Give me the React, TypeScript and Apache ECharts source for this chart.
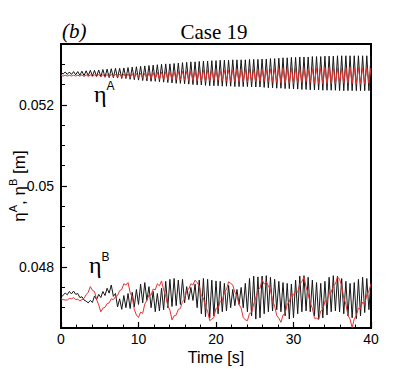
import React, { useEffect, useRef } from "react";
import * as echarts from "echarts";

// ---- data ----
const TIME_MIN = 0;
const TIME_MAX = 40;
const SAMPLE_STEP = 40 / 148; // samples every ~0.27 s (half of the ~0.54 s wave period)

const X_TICK_INTERVAL = 10;
const Y_MIN = 0.0465;
const Y_MAX = 0.0535;
const Y_MAJOR_TICKS = [0.048, 0.05, 0.052];
const Y_MINOR_STEP = 0.0005;

// eta^A, black curve [m]
const etaA_black = [
  .05280, .05276, .05281, .05275, .05281, .05275, .05282, .05274, .05282, .05273,
  .05283, .05272, .05284, .05272, .05285, .05271, .05285, .05270, .05286, .05269,
  .05287, .05268, .05288, .05267, .05289, .05267, .05290, .05266, .05290, .05265,
  .05291, .05265, .05292, .05263, .05293, .05262, .05294, .05261, .05295, .05260,
  .05296, .05259, .05297, .05258, .05298, .05258, .05299, .05257, .05300, .05256,
  .05301, .05255, .05301, .05254, .05302, .05253, .05303, .05253, .05304, .05252,
  .05305, .05251, .05306, .05250, .05306, .05249, .05307, .05249, .05308, .05248,
  .05308, .05247, .05309, .05247, .05309, .05247, .05310, .05246, .05310, .05246,
  .05310, .05246, .05311, .05245, .05311, .05245, .05311, .05245, .05311, .05245,
  .05312, .05244, .05312, .05244, .05312, .05244, .05313, .05243, .05313, .05242,
  .05314, .05242, .05314, .05241, .05315, .05241, .05316, .05240, .05316, .05240,
  .05317, .05239, .05317, .05239, .05318, .05238, .05318, .05238, .05318, .05237,
  .05319, .05237, .05319, .05237, .05319, .05236, .05320, .05236, .05320, .05236,
  .05320, .05236, .05321, .05235, .05321, .05235, .05321, .05235, .05321, .05235,
  .05321, .05235, .05321, .05235, .05321, .05235, .05321, .05235, .05321,
];

// eta^A, red curve [m]
const etaA_red = [
  .05273, .05271, .05273, .05271, .05273, .05271, .05273, .05271, .05273, .05271,
  .05274, .05270, .05274, .05270, .05274, .05270, .05274, .05270, .05275, .05269,
  .05275, .05269, .05275, .05269, .05275, .05269, .05276, .05268, .05276, .05268,
  .05276, .05268, .05276, .05267, .05277, .05267, .05277, .05267, .05278, .05266,
  .05278, .05265, .05279, .05265, .05280, .05264, .05280, .05263, .05281, .05263,
  .05282, .05262, .05282, .05262, .05282, .05262, .05283, .05261, .05283, .05261,
  .05283, .05260, .05284, .05260, .05284, .05259, .05285, .05259, .05286, .05258,
  .05286, .05259, .05285, .05260, .05284, .05260, .05284, .05260, .05285, .05259,
  .05286, .05258, .05287, .05257, .05288, .05256, .05288, .05256, .05288, .05256,
  .05288, .05257, .05287, .05257, .05286, .05258, .05286, .05258, .05287, .05257,
  .05288, .05256, .05289, .05255, .05290, .05254, .05290, .05253, .05291, .05253,
  .05291, .05253, .05290, .05254, .05289, .05255, .05289, .05256, .05288, .05255,
  .05289, .05254, .05290, .05253, .05291, .05252, .05292, .05252, .05292, .05252,
  .05291, .05253, .05290, .05254, .05290, .05254, .05291, .05253, .05292, .05252,
  .05292, .05251, .05293, .05251, .05292, .05252, .05292, .05253, .05291,
];

// eta^B, black curve [m]
const etaB_black = [
  .04725, .04731, .04736, .04732, .04740, .04734, .04741, .04733, .04735, .04725,
  .04727, .04719, .04716, .04712, .04718, .04713, .04729, .04720, .04733, .04725,
  .04740, .04730, .04748, .04736, .04756, .04728, .04735, .04702, .04722, .04696,
  .04730, .04700, .04735, .04698, .04738, .04702, .04745, .04708, .04758, .04712,
  .04762, .04718, .04752, .04700, .04740, .04690, .04735, .04692, .04748, .04695,
  .04765, .04700, .04770, .04703, .04772, .04705, .04768, .04708, .04770, .04712,
  .04752, .04720, .04750, .04718, .04758, .04700, .04768, .04685, .04772, .04678,
  .04770, .04675, .04768, .04680, .04766, .04685, .04765, .04690, .04760, .04692,
  .04755, .04700, .04745, .04705, .04745, .04708, .04750, .04700, .04760, .04690,
  .04772, .04680, .04778, .04672, .04776, .04675, .04778, .04685, .04779, .04690,
  .04775, .04692, .04770, .04695, .04765, .04690, .04762, .04680, .04760, .04672,
  .04758, .04675, .04768, .04685, .04778, .04690, .04779, .04692, .04775, .04690,
  .04768, .04680, .04762, .04672, .04760, .04675, .04765, .04682, .04775, .04690,
  .04779, .04692, .04778, .04690, .04772, .04685, .04765, .04680, .04760, .04675,
  .04762, .04673, .04770, .04680, .04775, .04688, .04772, .04695, .04765,
];

// eta^B, red curve [m]
const etaB_red = [
  .04722, .04720, .04719, .04719, .04723, .04722, .04725, .04720, .04721, .04717,
  .04720, .04723, .04732, .04738, .04752, .04743, .04740, .04720, .04707, .04690,
  .04699, .04701, .04710, .04712, .04722, .04720, .04727, .04730, .04742, .04745,
  .04759, .04756, .04762, .04738, .04726, .04696, .04682, .04676, .04689, .04686,
  .04709, .04718, .04732, .04731, .04746, .04744, .04759, .04754, .04766, .04744,
  .04729, .04704, .04694, .04670, .04680, .04682, .04696, .04698, .04716, .04721,
  .04742, .04746, .04759, .04756, .04768, .04762, .04754, .04729, .04724, .04701,
  .04692, .04668, .04672, .04676, .04699, .04698, .04716, .04716, .04739, .04744,
  .04764, .04760, .04756, .04738, .04729, .04708, .04699, .04676, .04670, .04668,
  .04686, .04688, .04709, .04724, .04744, .04748, .04769, .04758, .04764, .04754,
  .04744, .04718, .04704, .04681, .04674, .04664, .04682, .04686, .04709, .04714,
  .04734, .04731, .04742, .04738, .04759, .04764, .04776, .04751, .04734, .04711,
  .04699, .04674, .04674, .04671, .04692, .04696, .04716, .04718, .04736, .04738,
  .04754, .04758, .04776, .04770, .04754, .04724, .04709, .04681, .04672, .04651,
  .04672, .04681, .04699, .04698, .04714, .04708, .04732, .04741, .04759,
];

const BLACK = "#161616";
const RED = "#e3322f";
const SANS = "'Liberation Sans', Arial, sans-serif";
const SERIF = "'Liberation Serif', 'Times New Roman', serif";

const toPairs = (vals: number[]) => vals.map((v, i) => [TIME_MIN + i * SAMPLE_STEP, v]);

export default function App() {
  const ref = useRef<HTMLDivElement>(null);

  useEffect(() => {
    document.body.style.margin = "0";
    if (!ref.current) return;
    const chart = echarts.init(ref.current, undefined, { renderer: "svg" });

    const lineSeries = (name: string, vals: number[], color: string) => ({
      name,
      type: "line",
      data: toPairs(vals),
      showSymbol: false,
      symbol: "none",
      lineStyle: { color, width: 1 },
      z: 3,
    });

    const option: any = {
      animation: false,
      backgroundColor: "#ffffff",
      grid: {
        left: 61,
        right: 44,
        top: 44,
        bottom: 41,
        containLabel: false,
        outerBoundsMode: "none",
        show: true,
        borderColor: "#000",
        borderWidth: 2,
        backgroundColor: "transparent",
      },
      xAxis: {
        type: "value",
        min: TIME_MIN,
        max: TIME_MAX,
        interval: X_TICK_INTERVAL,
        axisLine: { show: true, onZero: false, lineStyle: { color: "#000", width: 2 } },
        axisTick: { show: true, inside: true, length: 6, lineStyle: { color: "#000", width: 1.2 } },
        minorTick: { show: true, splitNumber: 5, length: 3.5, lineStyle: { color: "#000", width: 1 } },
        axisLabel: { color: "#000", fontSize: 14, fontFamily: SANS, margin: 4 },
        splitLine: { show: false },
        name: "Time [s]",
        nameLocation: "middle",
        nameGap: 21,
        nameMoveOverlap: false,
        nameTextStyle: { color: "#000", fontSize: 16, fontFamily: SANS },
      },
      yAxis: [
        {
          type: "value",
          min: Y_MIN,
          max: Y_MAX,
          axisLine: { show: true, onZero: false, lineStyle: { color: "#000", width: 2 } },
          axisTick: {
            show: true,
            inside: true,
            length: 6,
            customValues: Y_MAJOR_TICKS,
            lineStyle: { color: "#000", width: 1.2 },
          },
          axisLabel: {
            customValues: Y_MAJOR_TICKS,
            color: "#000",
            fontSize: 14,
            fontFamily: SANS,
            margin: 7,
            formatter: (v: number) => String(Number(v.toFixed(4))),
          },
          splitLine: { show: false },
          name: "{e|η}{s|A}{e|, η}{s|B}{e| [m]}",
          nameLocation: "middle",
          nameRotate: 90,
          nameGap: 33,
          nameMoveOverlap: false,
          nameTextStyle: {
            color: "#000",
            fontFamily: SANS,
            rich: {
              e: { fontSize: 17, fontFamily: SANS, color: "#000", lineHeight: 21, verticalAlign: "bottom" },
              s: { fontSize: 11, fontFamily: SANS, color: "#000", lineHeight: 21, verticalAlign: "top" },
            },
          },
        },
        {
          type: "value",
          min: Y_MIN,
          max: Y_MAX,
          interval: Y_MINOR_STEP,
          position: "left",
          offset: 0,
          axisLine: { show: false },
          axisTick: { show: true, inside: true, length: 4, lineStyle: { color: "#000", width: 1 } },
          axisLabel: { show: false },
          splitLine: { show: false },
        },
      ],
      graphic: [
        {
          type: "text",
          x: 62,
          y: 31,
          style: {
            text: "(b)",
            fontSize: 21,
            fontStyle: "italic",
            fontFamily: SERIF,
            fill: "#000",
            textAlign: "left",
            align: "left",
            textVerticalAlign: "middle",
            verticalAlign: "middle",
          },
        },
        {
          type: "text",
          x: 214,
          y: 32,
          style: {
            text: "Case 19",
            fontSize: 21,
            fontFamily: SERIF,
            fill: "#000",
            textAlign: "center",
            align: "center",
            textVerticalAlign: "middle",
            verticalAlign: "middle",
          },
        },
        {
          type: "text",
          x: 94,
          y: 80,
          z: 10,
          style: {
            text: "{e|η}{s|A}",
            fill: "#000",
            textAlign: "left",
            align: "left",
            textVerticalAlign: "top",
            verticalAlign: "top",
            rich: {
              e: { fontSize: 24, fontFamily: SERIF, fill: "#000", lineHeight: 26, verticalAlign: "bottom" },
              s: { fontSize: 12, fontFamily: SANS, fill: "#000", lineHeight: 14, verticalAlign: "top" },
            },
          },
        },
        {
          type: "text",
          x: 89,
          y: 251,
          z: 10,
          style: {
            text: "{e|η}{s|B}",
            fill: "#000",
            textAlign: "left",
            align: "left",
            textVerticalAlign: "top",
            verticalAlign: "top",
            rich: {
              e: { fontSize: 24, fontFamily: SERIF, fill: "#000", lineHeight: 26, verticalAlign: "bottom" },
              s: { fontSize: 12, fontFamily: SANS, fill: "#000", lineHeight: 14, verticalAlign: "top" },
            },
          },
        },
      ],
      series: [
        lineSeries("ηA black", etaA_black, BLACK),
        lineSeries("ηA red", etaA_red, RED),
        lineSeries("ηB black", etaB_black, BLACK),
        lineSeries("ηB red", etaB_red, RED),
      ],
    };

    chart.setOption(option);
    return () => chart.dispose();
  }, []);

  return <div ref={ref} style={{ width: 415, height: 369, background: "#fff" }} />;
}
